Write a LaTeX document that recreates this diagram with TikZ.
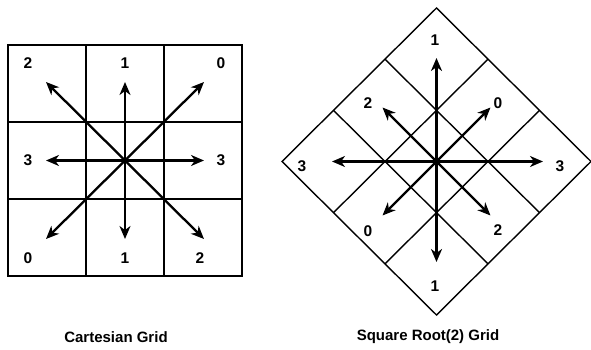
\documentclass[tikz,border=0pt]{standalone}
\usepackage{fontspec}
\setmainfont{Liberation Sans}
\usetikzlibrary{arrows.meta,calc}
\begin{document}
\begin{tikzpicture}[x=1pt,y=-1pt,
  gridline/.style={line width=1.4pt,line join=miter},
  dirarrow/.style={line width=2.3pt,-{Stealth[length=13pt,width=11pt,inset=4pt]}},
  lbl/.style={font=\fontsize{15.5}{15.5}\selectfont\bfseries,inner sep=0pt},
  captext/.style={font=\fontsize{15}{15}\selectfont\bfseries,inner sep=0pt}]
\useasboundingbox (0,0) rectangle (591,350);
% ---------- Cartesian grid ----------
\draw[gridline] (8,45) rectangle (242,276);
\draw[gridline] (86,45) -- (86,276) (164,45) -- (164,276)
                (8,122) -- (242,122) (8,199) -- (242,199);
\coordinate (c) at (125,160.5);
\coordinate (cN) at (125,82);
\coordinate (cS) at (125,239);
\coordinate (cE) at (204,160.5);
\coordinate (cW) at (46,160.5);
\coordinate (cNE) at (204,82);
\coordinate (cNW) at (46,82);
\coordinate (cSE) at (204,239);
\coordinate (cSW) at (46,239);
\foreach \t in {cN,cS,cE,cW,cNE,cNW,cSE,cSW} \draw[dirarrow] (c) -- (\t);
\node[lbl] (a2) at (28,63) {2};
\node[lbl] (a1) at (125,63) {1};
\node[lbl] (a0) at (221,63) {0};
\node[lbl] (a3l) at (28,160) {3};
\node[lbl] (a3r) at (221,160) {3};
\node[lbl] (b0) at (28,258) {0};
\node[lbl] (b1) at (125,258) {1};
\node[lbl] (b2) at (200,258) {2};
\node[captext] (capA) at (116,337) {Cartesian Grid};
% ---------- Square root(2) grid ----------
\coordinate (T) at (436.5,8);
\coordinate (R) at (591,161.5);
\coordinate (B) at (436.5,315);
\coordinate (L) at (282,161.5);
\draw[gridline] (T) -- (R) -- (B) -- (L) -- cycle;
\draw[gridline] ($(T)!1/3!(L)$) -- ($(R)!1/3!(B)$)
                ($(T)!2/3!(L)$) -- ($(R)!2/3!(B)$)
                ($(T)!1/3!(R)$) -- ($(L)!1/3!(B)$)
                ($(T)!2/3!(R)$) -- ($(L)!2/3!(B)$);
\coordinate (d) at (436.5,161.5);
\coordinate (dN) at (436.5,58);
\coordinate (dS) at (436.5,262);
\coordinate (dE) at (543,161.5);
\coordinate (dW) at (332,161.5);
\coordinate (dNE) at (490.5,107.5);
\coordinate (dNW) at (382.5,107.5);
\coordinate (dSE) at (490.5,215.5);
\coordinate (dSW) at (382.5,215.5);
\foreach \t in {dN,dS,dE,dW,dNE,dNW,dSE,dSW} \draw[dirarrow] (d) -- (\t);
\node[lbl] (e1t) at (435,40) {1};
\node[lbl] (e2) at (368,103) {2};
\node[lbl] (e0) at (498,103) {0};
\node[lbl] (e3l) at (302,166) {3};
\node[lbl] (e3r) at (560,166) {3};
\node[lbl] (f0) at (368,231) {0};
\node[lbl] (f2) at (498,230) {2};
\node[lbl] (f1) at (435,286) {1};
\node[captext] (capB) at (428,337) {Square Root(2) Grid};
\end{tikzpicture}
\end{document}
